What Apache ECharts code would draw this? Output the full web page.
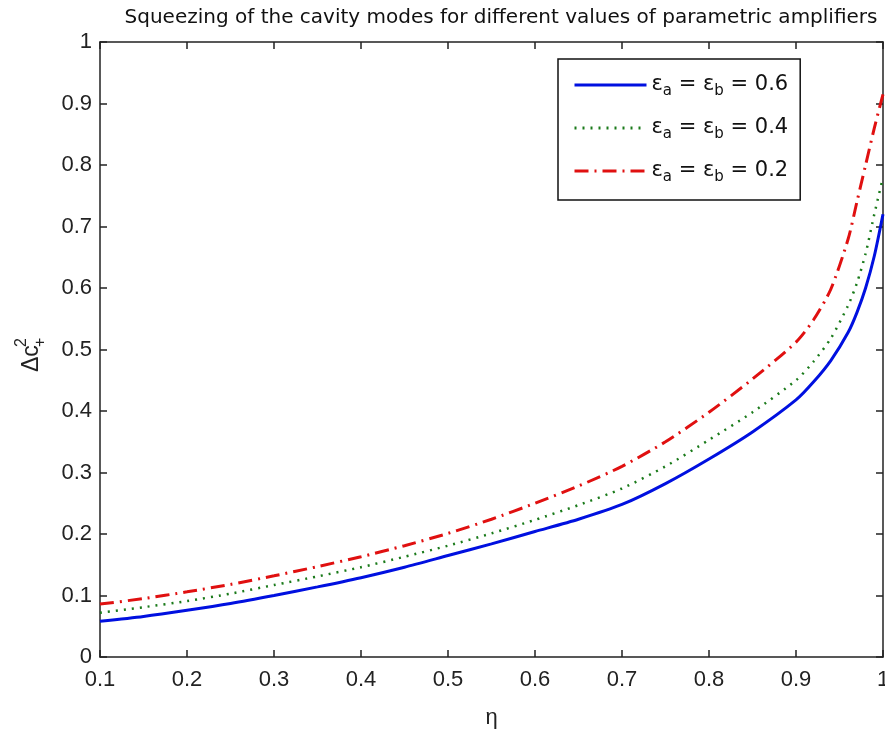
<!DOCTYPE html>
<html>
<head>
<meta charset="utf-8">
<script src="https://cdn.jsdelivr.net/npm/echarts@6/dist/echarts.min.js"></script>
<style>
  html, body { margin: 0; padding: 0; background: #fff; }
  #chart { width: 885px; height: 729px; }
</style>
</head>
<body>
<div id="chart"></div>
<script>
// eta values (x axis)
const eta = [0.1, 0.15, 0.2, 0.25, 0.3, 0.35, 0.4, 0.45, 0.5, 0.55, 0.6, 0.65, 0.7, 0.75, 0.8, 0.85, 0.9, 0.92, 0.94, 0.96, 0.97, 0.98, 0.99, 1.0];

// delta c+^2 for each amplifier setting
const eps06 = [0.058, 0.066, 0.076, 0.087, 0.100, 0.114, 0.129, 0.146, 0.165, 0.184, 0.204, 0.224, 0.248, 0.282, 0.322, 0.366, 0.418, 0.447, 0.482, 0.528, 0.560, 0.600, 0.652, 0.72];
const eps04 = [0.072, 0.081, 0.091, 0.103, 0.117, 0.131, 0.146, 0.163, 0.181, 0.201, 0.223, 0.247, 0.274, 0.310, 0.353, 0.398, 0.450, 0.480, 0.518, 0.572, 0.608, 0.656, 0.720, 0.78];
const eps02 = [0.086, 0.095, 0.106, 0.118, 0.132, 0.147, 0.163, 0.181, 0.201, 0.224, 0.250, 0.278, 0.310, 0.350, 0.398, 0.452, 0.512, 0.548, 0.598, 0.680, 0.740, 0.800, 0.860, 0.915];

const seriesNames = ['0.6', '0.4', '0.2'];
const xTickLabels = ['0.1', '0.2', '0.3', '0.4', '0.5', '0.6', '0.7', '0.8', '0.9', '1'];
const yTickLabels = ['0', '0.1', '0.2', '0.3', '0.4', '0.5', '0.6', '0.7', '0.8', '0.9', '1'];

const FONT = 'Liberation Sans';
const WIDE = 'DejaVu Sans';
const AXIS_COLOR = '#222';

const pairs = (ys) => eta.map((x, i) => [x, ys[i]]);

const chart = echarts.init(document.getElementById('chart'));

const baseAxis = {
  type: 'value',
  splitLine: { show: false },
  axisLine: { show: true, onZero: false, lineStyle: { color: AXIS_COLOR, width: 1.5 } },
  axisTick: { show: true, inside: true, length: 7, lineStyle: { color: AXIS_COLOR, width: 1.5 } }
};

const option = {
  animation: false,
  backgroundColor: '#fff',
  title: {
    text: 'Squeezing of the cavity modes for different values of parametric amplifiers',
    left: 496,
    textAlign: 'center',
    top: 3,
    textStyle: { fontFamily: WIDE, fontSize: 20, fontWeight: 'normal', color: '#111' }
  },
  grid: { left: 100, right: 2, top: 42, bottom: 72, containLabel: false, outerBoundsMode: 'none' },
  legend: {
    orient: 'vertical',
    left: 558,
    top: 59,
    padding: [15, 12, 15, 15],
    itemWidth: 72,
    itemHeight: 14,
    itemGap: 18,
    borderColor: '#111',
    borderWidth: 1.5,
    backgroundColor: '#fff',
    itemStyle: { opacity: 0 },
    lineStyle: { width: 3 },
    data: seriesNames,
    formatter: (name) => '{e|ε}{s|a}{e| = ε}{s|b}{e| = ' + name + '}',
    textStyle: {
      fontFamily: WIDE,
      color: '#111',
      rich: {
        e: { fontSize: 21, fontFamily: WIDE, lineHeight: 28, color: '#111' },
        s: { fontSize: 15, fontFamily: WIDE, lineHeight: 28, verticalAlign: 'bottom', padding: [10, 0, 0, 0], color: '#111' }
      }
    }
  },
  xAxis: [
    Object.assign({}, baseAxis, {
      position: 'bottom', min: 0.1, max: 1, interval: 0.1,
      axisLabel: {
        fontFamily: FONT, fontSize: 22, color: '#222', margin: 12,
        formatter: (v) => xTickLabels[Math.round((v - 0.1) / 0.1)]
      },
      name: 'η', nameLocation: 'middle', nameGap: 50,
      nameTextStyle: { fontFamily: FONT, fontSize: 22, color: '#222' }
    }),
    Object.assign({}, baseAxis, {
      position: 'top', min: 0.1, max: 1, interval: 0.1,
      axisLabel: { show: false }
    })
  ],
  yAxis: [
    Object.assign({}, baseAxis, {
      position: 'left', min: 0, max: 1, interval: 0.1,
      axisLabel: {
        fontFamily: FONT, fontSize: 22, color: '#222', margin: 8,
        formatter: (v) => yTickLabels[Math.round(v / 0.1)]
      }
    }),
    Object.assign({}, baseAxis, {
      position: 'right', min: 0, max: 1, interval: 0.1,
      axisLabel: { show: false }
    })
  ],
  graphic: [
    {
      type: 'group',
      x: 32,
      y: 352,
      rotation: Math.PI / 2,
      children: [
        { type: 'text', x: -20, y: 0, style: { text: 'Δc', font: '23px ' + FONT, fill: '#222', verticalAlign: 'middle' } },
        { type: 'text', x: 5, y: -10, style: { text: '2', font: '16px ' + FONT, fill: '#222', verticalAlign: 'middle' } },
        { type: 'text', x: 5, y: 9, style: { text: '+', font: '16px ' + FONT, fill: '#222', verticalAlign: 'middle' } }
      ]
    }
  ],
  series: [
    {
      name: seriesNames[0], type: 'line', symbol: 'none', data: pairs(eps06), smooth: 0.25,
      lineStyle: { color: '#0010e0', width: 3, type: 'solid' }, itemStyle: { color: '#0010e0' }
    },
    {
      name: seriesNames[1], type: 'line', symbol: 'none', data: pairs(eps04), smooth: 0.25,
      lineStyle: { color: '#1a7a1a', width: 2.5, type: [2, 6] }, itemStyle: { color: '#1a7a1a' }
    },
    {
      name: seriesNames[2], type: 'line', symbol: 'none', data: pairs(eps02), smooth: 0.25,
      lineStyle: { color: '#e01010', width: 3, type: [14, 6, 2, 6] }, itemStyle: { color: '#e01010' }
    }
  ]
};

chart.setOption(option);
</script>
</body>
</html>
